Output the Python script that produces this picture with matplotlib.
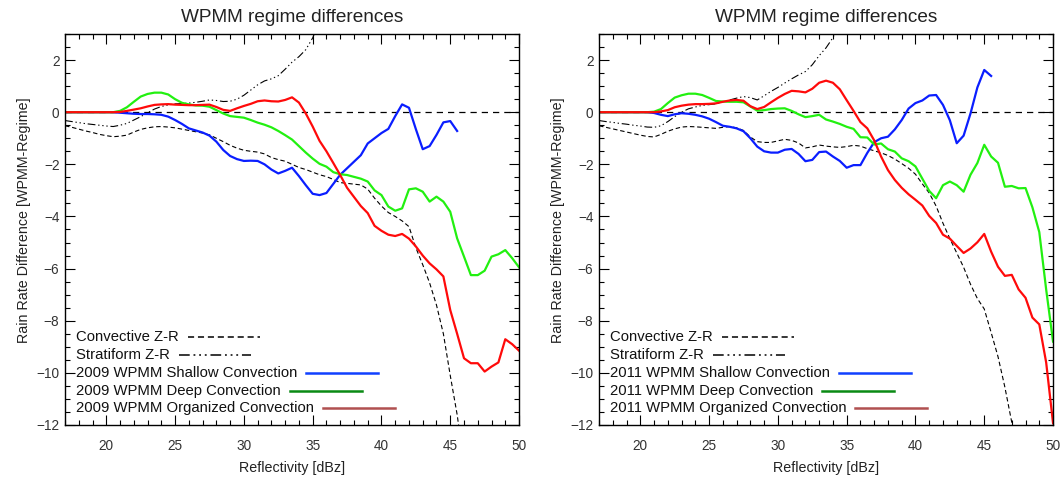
import numpy as np
import matplotlib
matplotlib.use("Agg")
import matplotlib.pyplot as plt
from matplotlib.ticker import MultipleLocator

plt.rcParams["font.family"] = ["Liberation Sans", "DejaVu Sans"]

# reflectivity grid (dBz), 0.5 dBz steps from 17
dbz = np.arange(17.0, 50.01, 0.5)

# ---- 2009 panel ----
shallow_2009 = [0, 0, 0, 0, 0, 0, 0, 0,
                -0.02, -0.04, -0.06, -0.07, -0.07, -0.08, -0.10, -0.17, -0.30, -0.45,
                -0.62, -0.70, -0.78, -0.90, -1.13, -1.45, -1.68, -1.80, -1.87, -1.86,
                -1.87, -2.00, -2.20, -2.35, -2.25, -2.13, -2.45, -2.80, -3.13, -3.18,
                -3.10, -2.75, -2.40, -2.15, -1.90, -1.65, -1.20, -1.00, -0.80, -0.64,
                -0.15, 0.30, 0.17, -0.65, -1.42, -1.30, -0.87, -0.39, -0.34, -0.72]
deep_2009 = [0, 0, 0, 0, 0, 0, 0, 0,
             0.05, 0.19, 0.40, 0.60, 0.70, 0.75, 0.75, 0.68, 0.50, 0.36,
             0.30, 0.26, 0.25, 0.21, 0.08, -0.05, -0.15, -0.18, -0.21, -0.30,
             -0.40, -0.48, -0.58, -0.72, -0.88, -1.05, -1.30, -1.55, -1.78, -1.98,
             -2.09, -2.30, -2.38, -2.41, -2.48, -2.55, -2.66, -3.00, -3.18, -3.62,
             -3.78, -3.69, -2.96, -2.92, -3.05, -3.43, -3.24, -3.43, -3.82, -4.84,
             -5.54, -6.25, -6.25, -6.08, -5.54, -5.45, -5.29, -5.60, -5.95]
organized_2009 = [0, 0, 0, 0, 0, 0, 0, 0,
                  0.01, 0.05, 0.10, 0.15, 0.22, 0.28, 0.30, 0.31, 0.29, 0.28,
                  0.27, 0.27, 0.28, 0.29, 0.20, 0.09, 0.05, 0.15, 0.24, 0.32,
                  0.42, 0.45, 0.42, 0.41, 0.47, 0.57, 0.37, -0.05, -0.55, -1.10,
                  -1.50, -1.95, -2.41, -2.90, -3.25, -3.60, -3.87, -4.36, -4.55, -4.70,
                  -4.75, -4.67, -4.85, -5.15, -5.50, -5.80, -6.03, -6.30, -7.59, -8.50,
                  -9.44, -9.63, -9.63, -9.95, -9.76, -9.60, -8.71, -8.90, -9.15]
conv_zr_2009 = [-0.52, -0.58, -0.65, -0.72, -0.78, -0.85, -0.90, -0.94,
                -0.92, -0.88, -0.76, -0.66, -0.60, -0.56, -0.55, -0.57, -0.60, -0.65,
                -0.70, -0.75, -0.80, -0.87, -1.00, -1.13, -1.27, -1.38, -1.46, -1.50,
                -1.53, -1.60, -1.74, -1.82, -1.88, -2.00, -2.12, -2.20, -2.30, -2.40,
                -2.47, -2.58, -2.70, -2.73, -2.76, -2.79, -2.95, -3.30, -3.60, -3.85,
                -4.00, -4.17, -4.39, -5.20, -5.85, -6.55, -7.40, -8.50, -10.10, -11.60,
                -13.50]
strat_zr_2009 = [-0.32, -0.36, -0.40, -0.44, -0.47, -0.50, -0.53, -0.55,
                 -0.50, -0.43, -0.30, -0.17, -0.02, 0.12, 0.22, 0.28, 0.32, 0.33,
                 0.35, 0.38, 0.42, 0.47, 0.45, 0.41, 0.42, 0.50, 0.65, 0.85,
                 1.05, 1.20, 1.28, 1.40, 1.65, 1.92, 2.13, 2.40, 2.85, 3.50]

# ---- 2011 panel ----
shallow_2011 = [0, 0, 0, 0, 0, 0, 0, 0,
                -0.03, -0.10, -0.15, -0.08, -0.04, -0.06, -0.10, -0.16, -0.25, -0.38,
                -0.52, -0.56, -0.62, -0.73, -1.00, -1.32, -1.50, -1.55, -1.55, -1.44,
                -1.41, -1.60, -1.88, -1.83, -1.53, -1.51, -1.70, -1.87, -2.13, -2.03,
                -2.03, -1.56, -1.15, -1.00, -0.94, -0.66, -0.30, 0.14, 0.35, 0.45,
                0.64, 0.66, 0.28, -0.31, -1.19, -0.90, -0.05, 0.95, 1.62, 1.39]
deep_2011 = [0, 0, 0, 0, 0, 0, 0, 0,
             0.02, 0.12, 0.35, 0.56, 0.65, 0.71, 0.71, 0.66, 0.55, 0.43,
             0.41, 0.40, 0.40, 0.38, 0.22, 0.06, 0.08, 0.12, 0.14, 0.15,
             0.05, -0.08, -0.19, -0.15, -0.10, -0.28, -0.36, -0.45, -0.56, -0.64,
             -0.96, -0.97, -1.24, -1.20, -1.42, -1.51, -1.77, -1.88, -2.08, -2.55,
             -3.02, -3.30, -2.80, -2.66, -2.80, -3.05, -2.40, -1.95, -1.25, -1.70,
             -1.94, -2.86, -2.83, -2.92, -2.91, -3.65, -4.60, -6.80, -8.80]
organized_2011 = [0, 0, 0, 0, 0, 0, 0, 0,
                  0.00, 0.03, 0.08, 0.19, 0.25, 0.29, 0.31, 0.31, 0.32, 0.34,
                  0.40, 0.45, 0.47, 0.44, 0.23, 0.12, 0.20, 0.38, 0.55, 0.70,
                  0.82, 0.80, 0.76, 0.90, 1.13, 1.21, 1.13, 0.88, 0.46, 0.05,
                  -0.38, -0.62, -1.08, -1.70, -2.22, -2.60, -2.90, -3.15, -3.36, -3.58,
                  -3.98, -4.25, -4.70, -4.85, -5.13, -5.40, -5.23, -4.99, -4.67, -5.35,
                  -5.93, -6.28, -6.24, -6.80, -7.12, -7.88, -8.14, -9.60, -11.93]
conv_zr_2011 = [-0.52, -0.58, -0.64, -0.70, -0.76, -0.82, -0.88, -0.93,
                -0.95, -0.85, -0.73, -0.64, -0.57, -0.55, -0.56, -0.58, -0.60, -0.62,
                -0.58, -0.55, -0.60, -0.70, -0.95, -1.13, -1.16, -1.16, -1.10, -1.04,
                -1.08, -1.18, -1.37, -1.33, -1.26, -1.30, -1.33, -1.35, -1.32, -1.27,
                -1.30, -1.40, -1.48, -1.56, -1.66, -1.80, -1.97, -2.15, -2.38, -2.75,
                -3.10, -3.60, -4.26, -4.85, -5.40, -5.95, -6.60, -7.15, -7.55, -8.45,
                -9.38, -10.55, -11.90, -13.20]
strat_zr_2011 = [-0.32, -0.36, -0.39, -0.43, -0.46, -0.50, -0.53, -0.57,
                 -0.58, -0.52, -0.36, -0.17, 0.00, 0.13, 0.20, 0.26, 0.29, 0.32,
                 0.40, 0.47, 0.54, 0.60, 0.56, 0.47, 0.63, 0.80, 0.95, 1.12,
                 1.28, 1.43, 1.56, 1.82, 2.17, 2.47, 2.86, 3.40]

panels = [
    ("2009", shallow_2009, deep_2009, organized_2009, conv_zr_2009, strat_zr_2009),
    ("2011", shallow_2011, deep_2011, organized_2011, conv_zr_2011, strat_zr_2011),
]

line_blue, line_green, line_red = "#0a1eff", "#22f010", "#ff0a0a"
key_blue, key_green, key_red = "#1040ff", "#0a8a14", "#b05050"
dash_dot3 = (0, (7, 2.5, 1.2, 2.5, 1.2, 2.5, 1.2, 2.5))

fig = plt.figure(figsize=(10.61, 4.83), dpi=100)
axes = [fig.add_axes([0.0613, 0.1201, 0.4279, 0.8095]),
        fig.add_axes([0.5646, 0.1201, 0.4279, 0.8095])]

legend_items = []
for ax, (year, shallow, deep, organized, conv, strat) in zip(axes, panels):
    ax.axhline(0, color="black", lw=0.9, ls=(0, (5, 4)))
    ax.plot(dbz[:len(conv)], conv, color="black", lw=0.8, ls=(0, (4, 2.5)))
    ax.plot(dbz[:len(strat)], strat, color="black", lw=0.8, ls=dash_dot3)
    ax.plot(dbz[:len(shallow)], shallow, color=line_blue, lw=1.6)
    ax.plot(dbz[:len(deep)], deep, color=line_green, lw=1.6)
    ax.plot(dbz[:len(organized)], organized, color=line_red, lw=1.6)

    ax.set_xlim(17, 50)
    ax.set_ylim(-12, 3)
    ax.set_xticks([20, 25, 30, 35, 40, 45, 50])
    ax.set_yticks([-12, -10, -8, -6, -4, -2, 0, 2])
    ax.xaxis.set_minor_locator(MultipleLocator(1))
    ax.yaxis.set_minor_locator(MultipleLocator(0.5))
    ax.tick_params(which="both", direction="in", top=True, right=True,
                   labelsize=9.8, labelcolor="#333333", width=0.8)
    ax.tick_params(which="major", length=7)
    ax.tick_params(which="minor", length=3.5)
    ax.tick_params(axis="x", pad=10)
    ax.tick_params(axis="y", pad=4)
    for sp in ax.spines.values():
        sp.set_linewidth(1.0)

    ax.set_title("WPMM regime differences", fontsize=13.7, pad=9, color="#222222")
    ax.set_xlabel("Reflectivity [dBz]", fontsize=10.3, color="#222222", labelpad=6)
    ax.set_ylabel("Rain Rate Difference [WPMM-Regime]", fontsize=10.3,
                  color="#222222")
    ax.yaxis.set_label_coords(-0.074, 0.525)

    labels = [
        ("Convective Z-R", "black", (0, (4, 2.5)), 1.1),
        ("Stratiform Z-R", "black", dash_dot3, 1.1),
        (f"{year} WPMM Shallow Convection", key_blue, "-", 1.8),
        (f"{year} WPMM Deep Convection", key_green, "-", 1.8),
        (f"{year} WPMM Organized Convection", key_red, "-", 1.8),
    ]
    rows_y = [0.224, 0.178, 0.132, 0.087, 0.043]
    for (txt, col, ls, lw), yy in zip(labels, rows_y):
        t = ax.text(0.0236, yy, txt, transform=ax.transAxes, fontsize=10.7,
                    va="center", ha="left", color="#111111")
        legend_items.append((ax, t, col, ls, lw, yy))

fig.canvas.draw()
renderer = fig.canvas.get_renderer()
for ax, t, col, ls, lw, yy in legend_items:
    bb = t.get_window_extent(renderer)
    inv = ax.transAxes.inverted()
    x0 = inv.transform((bb.x1 + 9, 0))[0]
    x1 = inv.transform((bb.x1 + 81, 0))[0]
    ax.plot([x0, x1], [yy, yy], transform=ax.transAxes, color=col, ls=ls, lw=lw,
            clip_on=False)

fig.savefig("out.png", dpi=100)
